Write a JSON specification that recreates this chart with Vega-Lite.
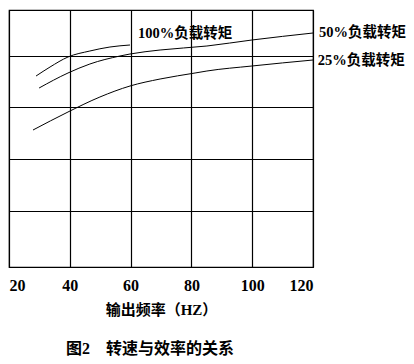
{
  "$schema": "https://vega.github.io/schema/vega-lite/v6.json",
  "width": 304,
  "height": 257,
  "autosize": {"type": "none"},
  "padding": {"left": 9, "top": 10, "right": 101, "bottom": 97},
  "background": "white",
  "config": {
    "view": {"stroke": "black", "strokeWidth": 1.2},
    "font": "Liberation Serif, Noto Sans CJK SC"
  },
  "title": {
    "text": "图2\u3000转速与效率的关系",
    "orient": "bottom",
    "anchor": "middle",
    "dx": -11,
    "offset": 24,
    "fontSize": 16,
    "fontWeight": "bold",
    "font": "Liberation Serif, Noto Sans CJK SC",
    "color": "black"
  },
  "datasets": {
    "curves": [
      {"series": "100%", "f": 28.9, "v": 191},
      {"series": "100%", "f": 33.5, "v": 200},
      {"series": "100%", "f": 39.4, "v": 210},
      {"series": "100%", "f": 46.6, "v": 216},
      {"series": "100%", "f": 53.2, "v": 220},
      {"series": "100%", "f": 59.8, "v": 222},
      {"series": "50%", "f": 29.9, "v": 179},
      {"series": "50%", "f": 39.4, "v": 194},
      {"series": "50%", "f": 46.6, "v": 203},
      {"series": "50%", "f": 56.5, "v": 211},
      {"series": "50%", "f": 59.8, "v": 213},
      {"series": "50%", "f": 69.7, "v": 217},
      {"series": "50%", "f": 85.1, "v": 221},
      {"series": "50%", "f": 99.9, "v": 227},
      {"series": "50%", "f": 120, "v": 234},
      {"series": "25%", "f": 27.9, "v": 137},
      {"series": "25%", "f": 39.4, "v": 155},
      {"series": "25%", "f": 49.9, "v": 170},
      {"series": "25%", "f": 59.8, "v": 181},
      {"series": "25%", "f": 69.7, "v": 188},
      {"series": "25%", "f": 81.2, "v": 194},
      {"series": "25%", "f": 85.1, "v": 196},
      {"series": "25%", "f": 99.9, "v": 201},
      {"series": "25%", "f": 120, "v": 207}
    ],
    "labels": [
      {"label": "100%负载转矩", "f": 62.4, "v": 233},
      {"label": "50%负载转矩", "f": 122, "v": 234},
      {"label": "25%负载转矩", "f": 121.6, "v": 206}
    ]
  },
  "layer": [
    {
      "data": {"name": "curves"},
      "mark": {"type": "line", "color": "black", "strokeWidth": 1, "interpolate": "monotone"},
      "encoding": {
        "x": {
          "field": "f",
          "type": "quantitative",
          "scale": {"domain": [20, 120], "nice": false, "zero": false},
          "axis": {
            "values": [20, 40, 60, 80, 100, 120],
            "grid": true,
            "gridColor": "black",
            "gridOpacity": 1,
            "gridWidth": 1.2,
            "domain": false,
            "ticks": false,
            "labelPadding": 10,
            "labelFontSize": 16,
            "labelFontWeight": "bold",
            "labelColor": "black",
            "labelFont": "Liberation Serif",
            "labelOverlap": false,
            "title": "输出频率（HZ）",
            "titleFontSize": 15,
            "titleFontWeight": "bold",
            "titleColor": "black",
            "titlePadding": 9,
            "titleFont": "Liberation Serif, Noto Sans CJK SC"
          }
        },
        "y": {
          "field": "v",
          "type": "quantitative",
          "scale": {"domain": [0, 257], "nice": false, "zero": true},
          "axis": {
            "values": [0, 56, 108, 160, 211, 257],
            "grid": true,
            "gridColor": "black",
            "gridOpacity": 1,
            "gridWidth": 1.2,
            "domain": false,
            "ticks": false,
            "labels": false,
            "title": null
          }
        },
        "detail": {"field": "series"}
      }
    },
    {
      "data": {"name": "labels"},
      "mark": {"type": "text", "align": "left", "baseline": "middle", "fontSize": 14.5, "fontWeight": "bold", "color": "black", "font": "Liberation Serif, Noto Sans CJK SC", "clip": false},
      "encoding": {
        "x": {"field": "f", "type": "quantitative"},
        "y": {"field": "v", "type": "quantitative"},
        "text": {"field": "label"}
      }
    }
  ]
}
